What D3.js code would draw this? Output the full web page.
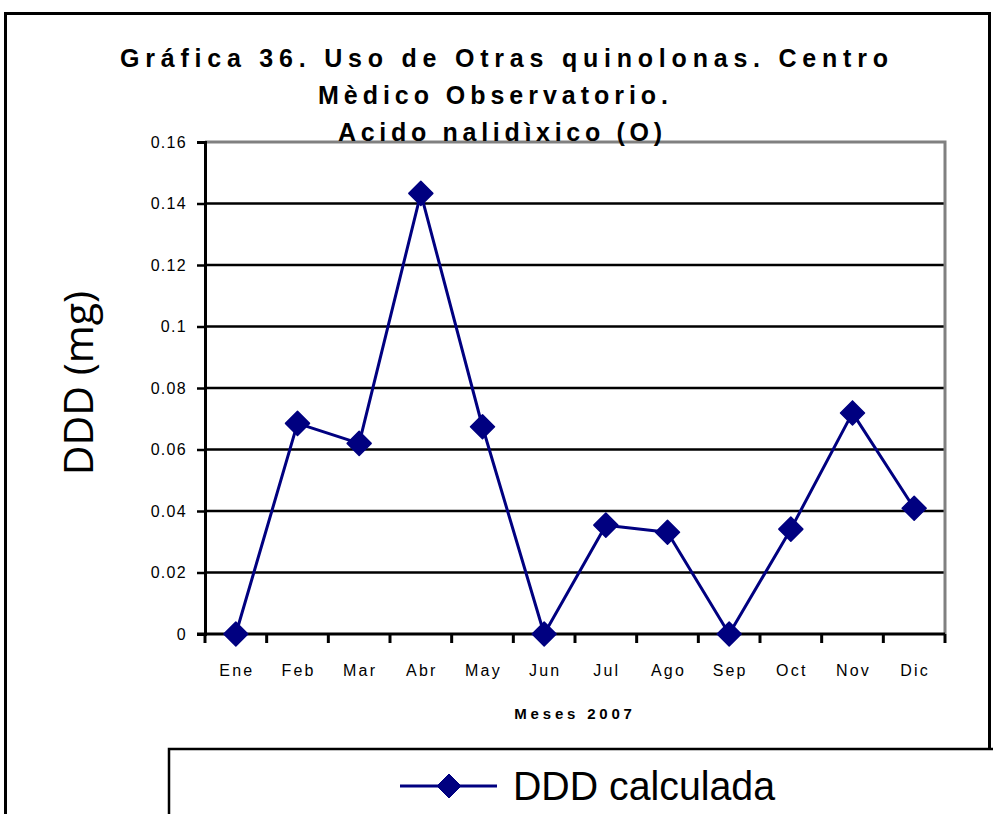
<!DOCTYPE html>
<html>
<head>
<meta charset="utf-8">
<script src="https://cdn.jsdelivr.net/npm/d3@7"></script>
<style>
  html, body { margin: 0; padding: 0; background: #fff; }
  svg { display: block; }
</style>
</head>
<body>
<script>
// Monthly DDD values for nalidixic acid, 2007
const months = ["Ene", "Feb", "Mar", "Abr", "May", "Jun", "Jul", "Ago", "Sep", "Oct", "Nov", "Dic"];
const dddValues = [0, 0.0685, 0.062, 0.1433, 0.0674, 0, 0.0354, 0.0331, 0, 0.0341, 0.0719, 0.0409];
const yTicks = [0, 0.02, 0.04, 0.06, 0.08, 0.1, 0.12, 0.14, 0.16];
const titleLines = ["Gráfica 36.  Uso de Otras quinolonas. Centro", "Mèdico Observatorio.", "Acido nalidìxico (O)"];
const seriesName = "DDD calculada";

const W = 993, H = 814;
const plot = { left: 205, top: 142, right: 945, bottom: 634 };
const navy = "#000080";
const sans = "Liberation Sans, Arial, sans-serif";

const svg = d3.select("body").append("svg").attr("width", W).attr("height", H);

// Outer chart frame
svg.append("rect")
  .attr("x", 5.5).attr("y", 13.5).attr("width", 984).attr("height", 830)
  .attr("fill", "none").attr("stroke", "#000").attr("stroke-width", 3);

const x = d3.scaleBand().domain(months).range([plot.left, plot.right]);
const y = d3.scaleLinear().domain([0, 0.16]).range([plot.bottom, plot.top]);

// Horizontal gridlines
svg.append("g").selectAll("line")
  .data(yTicks.filter(d => d > 0 && d < 0.16))
  .join("line")
  .attr("x1", plot.left).attr("x2", plot.right)
  .attr("y1", d => y(d)).attr("y2", d => y(d))
  .attr("stroke", "#000").attr("stroke-width", 2.5);

// Plot area border (top and right in grey)
svg.append("path")
  .attr("d", `M${plot.left},${y(0.16)}H${plot.right}V${plot.bottom}`)
  .attr("fill", "none").attr("stroke", "#808080").attr("stroke-width", 3);

// Y axis
const yAxis = d3.axisLeft(y).tickValues(yTicks).tickSize(8).tickPadding(10)
  .tickFormat(d => d === 0 ? "0" : String(+d.toFixed(2)));
const gy = svg.append("g").attr("transform", `translate(${plot.left},0)`).call(yAxis);
gy.select(".domain").attr("stroke", "#000").attr("stroke-width", 3);
gy.selectAll(".tick line").attr("stroke", "#000").attr("stroke-width", 2.5);
gy.selectAll(".tick text")
  .attr("font-family", sans)
  .attr("font-size", 16).attr("letter-spacing", 1.3).attr("fill", "#000");

// X axis with ticks on category boundaries
const gx = svg.append("g").attr("transform", `translate(0,${plot.bottom})`);
gx.append("line")
  .attr("x1", plot.left - 8).attr("x2", plot.right)
  .attr("stroke", "#000").attr("stroke-width", 3);
const boundaries = months.map(m => x(m)).concat([plot.right]);
gx.selectAll("line.tk").data(boundaries).join("line").attr("class", "tk")
  .attr("x1", d => d).attr("x2", d => d).attr("y1", 0).attr("y2", 9)
  .attr("stroke", "#000").attr("stroke-width", 3);
gx.selectAll("text").data(months).join("text")
  .attr("x", d => x(d) + x.bandwidth() / 2 + 1)
  .attr("y", 42)
  .attr("text-anchor", "middle")
  .attr("font-family", sans)
  .attr("font-size", 16).attr("letter-spacing", 2.2).attr("fill", "#000")
  .text(d => d);

// Axis titles
svg.append("text")
  .attr("x", 575).attr("y", 719).attr("text-anchor", "middle")
  .attr("font-family", sans)
  .attr("font-weight", "bold").attr("font-size", 15).attr("letter-spacing", 3.8)
  .text("Meses 2007");

svg.append("text")
  .attr("transform", "translate(93,383) rotate(-90)")
  .attr("text-anchor", "middle")
  .attr("font-family", "Open Sans, sans-serif")
  .attr("font-size", 41).attr("fill", "#000")
  .text("DDD (mg)");

// Title lines
const titleSpec = [
  { cx: 504, y: 67, w: 768 },
  { cx: 493, y: 104, w: 350 },
  { cx: 500, y: 141, w: 324 }
];
svg.append("g").selectAll("text").data(titleLines).join("text")
  .attr("x", (d, i) => titleSpec[i].cx).attr("y", (d, i) => titleSpec[i].y)
  .attr("text-anchor", "middle")
  .attr("font-family", sans)
  .attr("font-weight", "bold").attr("font-size", 25)
  .attr("textLength", (d, i) => titleSpec[i].w).attr("lengthAdjust", "spacing")
  .text(d => d);

// Data line and diamond markers
const cx = (d, i) => x(months[i]) + x.bandwidth() / 2;
const line = d3.line().x(cx).y(d => y(d));
svg.append("path").datum(dddValues)
  .attr("d", line).attr("fill", "none")
  .attr("stroke", navy).attr("stroke-width", 3).attr("stroke-linejoin", "round");

const diamond = r => `M0,${-r}L${r},0L0,${r}L${-r},0Z`;
svg.append("g").selectAll("path").data(dddValues).join("path")
  .attr("transform", (d, i) => `translate(${cx(d, i)},${y(d)})`)
  .attr("d", diamond(12))
  .attr("fill", navy).attr("stroke", navy).attr("stroke-width", 1.5).attr("stroke-linejoin", "round");

// Legend
const lg = svg.append("g");
lg.append("rect")
  .attr("x", 169).attr("y", 749).attr("width", 830).attr("height", 100)
  .attr("fill", "#fff").attr("stroke", "#000").attr("stroke-width", 2.5);
lg.append("line")
  .attr("x1", 400).attr("x2", 497).attr("y1", 786).attr("y2", 786)
  .attr("stroke", navy).attr("stroke-width", 3);
lg.append("path")
  .attr("transform", "translate(449,786)")
  .attr("d", diamond(12))
  .attr("fill", navy).attr("stroke", navy).attr("stroke-width", 1).attr("stroke-linejoin", "round");
lg.append("text")
  .attr("x", 513).attr("y", 800)
  .attr("font-family", sans)
  .attr("font-size", 40)
  .attr("textLength", 262).attr("lengthAdjust", "spacingAndGlyphs")
  .text(seriesName);
</script>
</body>
</html>
